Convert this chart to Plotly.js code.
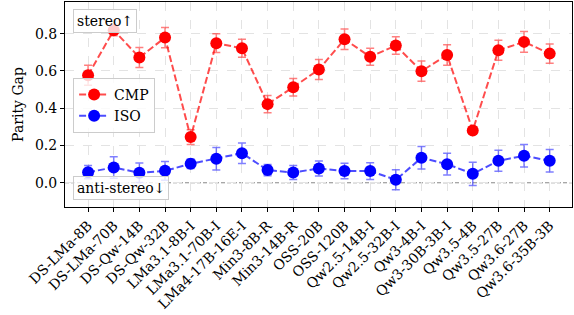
<!DOCTYPE html>
<html>
<head>
<meta charset="utf-8">
<script src="https://cdn.plot.ly/plotly-3.0.1.min.js"></script>
<style>html,body{margin:0;padding:0;background:#fff;}#chart{width:574px;height:315px;}</style>
</head>
<body>
<div id="chart"></div>
<script>
const models = ["DS-LMa-8B","DS-LMa-70B","DS-Qw-14B","DS-Qw-32B","LMa3.1-8B-I","LMa3.1-70B-I","LMa4-17B-16E-I","Min3-8B-R","Min3-14B-R","OSS-20B","OSS-120B","Qw2.5-14B-I","Qw2.5-32B-I","Qw3-4B-I","Qw3-30B-3B-I","Qw3.5-4B","Qw3.5-27B","Qw3.6-27B","Qw3.6-35B-3B"];
const cmpValues = [0.577,0.819,0.672,0.779,0.245,0.749,0.722,0.422,0.513,0.608,0.770,0.676,0.736,0.599,0.685,0.281,0.711,0.756,0.693];
const cmpErrors = [0.054,0.030,0.054,0.054,0.040,0.050,0.048,0.046,0.047,0.054,0.055,0.046,0.047,0.054,0.055,0.020,0.054,0.056,0.052];
const isoValues = [0.057,0.082,0.054,0.064,0.102,0.129,0.159,0.068,0.055,0.077,0.063,0.063,0.016,0.134,0.100,0.048,0.118,0.145,0.118];
const isoErrors = [0.036,0.058,0.052,0.050,0.025,0.060,0.055,0.030,0.038,0.040,0.042,0.045,0.054,0.060,0.058,0.062,0.056,0.060,0.060];
const yTicks = [0.0,0.2,0.4,0.6,0.8];

const font = {family: "DejaVu Serif, serif", size: 14, color: "#000"};
const xIdx = models.map((_, i) => i);

function series(name, vals, errs, rgb) {
  return {
    type: "scatter", mode: "lines+markers", name: name,
    x: xIdx, y: vals,
    line: {color: "rgba(" + rgb + ",0.7)", width: 2, dash: "7px,3px"},
    marker: {color: "rgb(" + rgb + ")", size: 12},
    error_y: {type: "data", array: errs, visible: true, color: "rgba(" + rgb + ",0.5)", thickness: 1.5, width: 4}
  };
}

const data = [
  series("CMP", cmpValues, cmpErrors, "255,0,0"),
  series("ISO", isoValues, isoErrors, "0,0,255")
];

const layout = {
  width: 574, height: 315,
  margin: {l: 65, r: 2, t: 2, b: 108},
  paper_bgcolor: "#fff", plot_bgcolor: "#fff",
  font: font,
  showlegend: true,
  legend: {x: 0.016, y: 0.63, xanchor: "left", yanchor: "top", bgcolor: "rgba(255,255,255,0.8)", bordercolor: "#ccc", borderwidth: 1, font: {family: font.family, size: 14}, tracegroupgap: 0},
  xaxis: {
    range: [-0.9, 18.87], tickmode: "array", tickvals: xIdx, ticktext: models, tickangle: -45,
    showgrid: true, gridcolor: "#e3e3e3", griddash: "dash", gridwidth: 1,
    showline: true, linecolor: "#000", linewidth: 1, mirror: true,
    ticks: "outside", ticklen: 4, tickcolor: "#000", zeroline: false, tickfont: font
  },
  yaxis: {
    range: [-0.13, 0.97], tickmode: "array", tickvals: yTicks, tickformat: ".1f",
    showgrid: true, gridcolor: "#e3e3e3", griddash: "dash", gridwidth: 1,
    showline: true, linecolor: "#000", linewidth: 1, mirror: true,
    ticks: "outside", ticklen: 4, tickcolor: "#000", zeroline: false, tickfont: font,
    title: {text: "Parity Gap", font: font, standoff: 8}
  },
  shapes: [{type: "line", xref: "paper", x0: 0, x1: 1, yref: "y", y0: 0, y1: 0, line: {color: "#888", width: 1, dash: "4px,2px"}, layer: "below"}],
  annotations: [
    {xref: "paper", yref: "paper", x: 0.016, y: 0.966, xanchor: "left", yanchor: "top", text: "stereo↑", showarrow: false, font: {family: font.family, size: 14}, bgcolor: "rgba(255,255,255,0.8)", bordercolor: "#ccc", borderwidth: 1, borderpad: 3},
    {xref: "paper", yref: "paper", x: 0.016, y: 0.034, xanchor: "left", yanchor: "bottom", text: "anti-stereo↓", showarrow: false, font: {family: font.family, size: 14}, bgcolor: "rgba(255,255,255,0.8)", bordercolor: "#ccc", borderwidth: 1, borderpad: 3}
  ]
};

Plotly.newPlot("chart", data, layout, {displayModeBar: false, staticPlot: true});
</script>
</body>
</html>
